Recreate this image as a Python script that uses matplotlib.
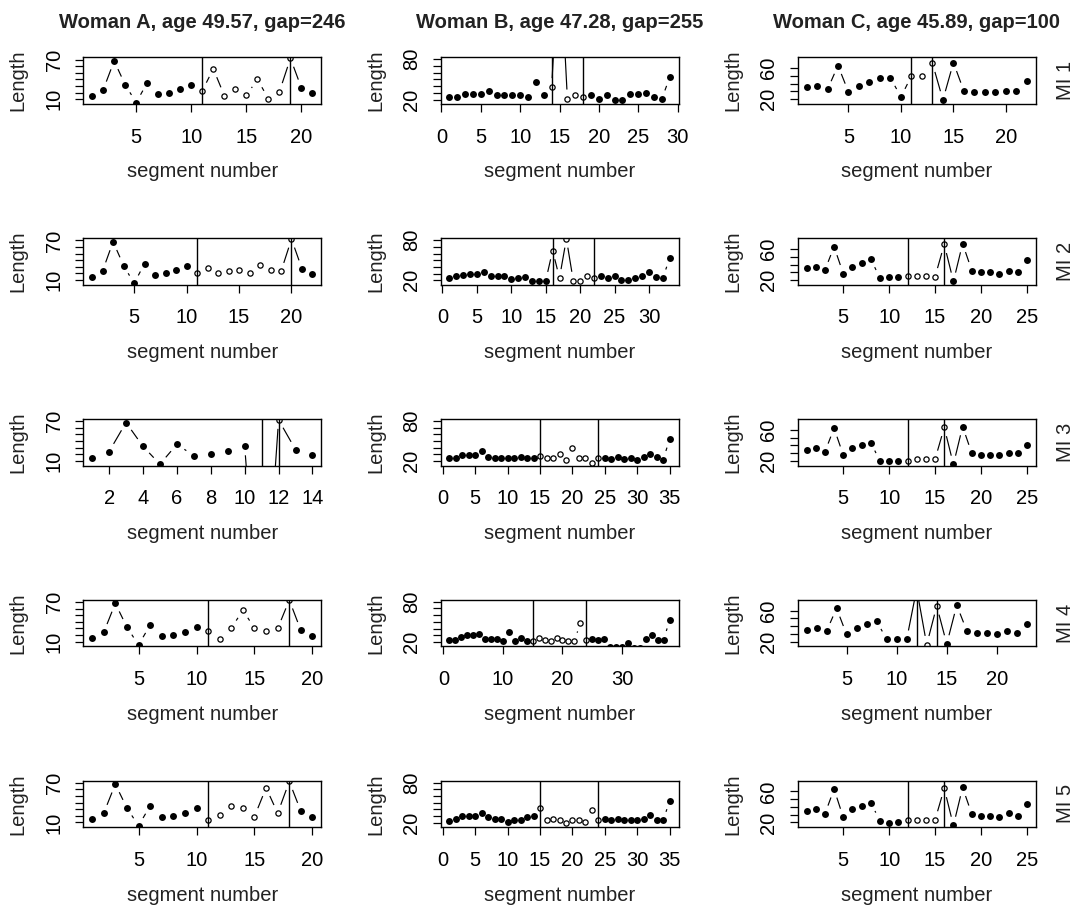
import matplotlib
matplotlib.use('Agg')
import matplotlib.pyplot as plt
import numpy as np
from matplotlib.collections import LineCollection

plt.rcParams['font.family'] = ['Liberation Sans', 'DejaVu Sans']

titles = ['Woman A, age 49.57, gap=246',
          'Woman B, age 47.28, gap=255',
          'Woman C, age 45.89, gap=100']
row_labels = ['MI 1', 'MI 2', 'MI 3', 'MI 4', 'MI 5']

# segment lengths, one list per woman and imputation
A1 = [15, 24, 68, 32, 5, 35, 18, 20, 25, 32, 23, 56, 15.5, 25.5, 16, 40, 11, 21.5, 72, 27, 19]
A2 = [15, 24, 68, 32, 5, 35, 18, 20, 25, 32, 20.5, 28, 20.5, 23, 25.5, 20.5, 33, 25.5, 23, 72, 27, 19]
A3 = [15, 24, 68, 32, 5, 35, 18, 20, 25, 32, -300, 72, 27, 19]
A4 = [15, 24, 68, 32, 5, 35, 18, 20, 25, 32, 25.5, 14, 30.5, 57.5, 30.5, 26, 30, 73, 27, 19]
A5 = [15, 24, 68, 32, 5, 35, 18, 20, 25, 32, 13.5, 21, 35.5, 31.5, 19, 62.5, 24, 72, 27, 19]

B1 = [24, 23.5, 28, 28, 28, 33, 26.5, 26.5, 26.5, 26.5, 23.5, 45.5, 26.5,
      38.5, 250, 21.5, 27, 24,
      26.5, 21.5, 26.5, 19, 19, 29, 28, 30, 24, 21, 53]
B2 = [23.5, 26, 28, 30, 30, 33, 26, 26, 26, 22, 23.5, 25, 19.5, 19.5, 19.5,
      64.5, 23.5, 82, 19.5, 19.5, 26, 23.5,
      26, 23.5, 26, 21, 21, 23.5, 26, 32, 25, 23.5, 53]
B3 = [25, 25, 29, 29, 29, 34.6, 26.3, 25, 25, 25, 25, 26.3, 25, 25,
      27.3, 25, 25, 30, 22.4, 39, 25, 25, 17.6, 25,
      25, 23.4, 26, 23.4, 25, 21.5, 26, 30, 26, 22.4, 53]
B4 = [22.5, 22.5, 27.5, 30, 30, 32.5, 25, 25, 25, 21, 35, 21, 26, 21,
      21, 26, 23.5, 21, 26, 23.5, 21, 21, 48.5, 23.5,
      25, 23.5, 25, 12, 12, 12.5, 18.5, 11, 11, 25, 31, 23.5, 23.5, 53]
B5 = [23, 25, 30, 30, 30, 35, 28, 26, 26, 21, 23.5, 23.5, 28.5, 30,
      42.6, 23.5, 26, 23.5, 19, 23.5, 23.5, 21, 38.6, 23.5,
      26, 23.5, 26, 23.5, 23.5, 23.5, 26, 31, 23.5, 23.5, 53]

C1 = [35.2, 36.8, 32.6, 63.4, 29.3, 36.8, 42.3, 47.4, 47.4, 23,
      50, 50, 66.3,
      19.2, 67.2, 30.5, 29.3, 29.3, 29.3, 31, 31, 43]
C2 = [35.2, 36.8, 32.6, 63, 28.4, 36.8, 41.9, 47, 22.5, 24.2, 23.4,
      25, 25, 25, 24.2, 66,
      18.3, 67, 32.2, 30.5, 30.5, 28.4, 32.2, 30.5, 45.3]
C3 = [33.9, 36, 31.4, 62, 27.6, 36.4, 39.8, 43.6, 19.6, 19.6, 19.6,
      19.6, 22, 22, 22, 63,
      15.4, 64.2, 29.7, 27.6, 27.6, 27.6, 29.7, 29.7, 41]
C4 = [35, 37, 33.4, 63, 29.3, 37, 42.4, 46.5, 23, 23, 23,
      88, 16, 66,
      17, 67, 34, 30.9, 30.9, 29.3, 33.4, 30.9, 43]
C5 = [35, 37, 30.8, 63, 26.6, 37, 40.8, 45, 22.4, 19, 21.2,
      23.3, 23.3, 23.3, 23.3, 63.8,
      16.1, 65, 30.8, 28.7, 28.7, 26.6, 31.6, 28.7, 43.3]

# first and last imputed segment (vertical lines)
A_gaps = [(11, 19), (11, 20), (11, 12), (11, 18), (11, 18)]
B_gaps = [(14, 18), (16, 22), (15, 24), (15, 24), (15, 24)]
C_gaps = [(11, 13), (12, 16), (12, 16), (12, 14), (12, 16)]

series = [[A1, A2, A3, A4, A5], [B1, B2, B3, B4, B5], [C1, C2, C3, C4, C5]]
gaps = [A_gaps, B_gaps, C_gaps]
y_limits = [(3, 73.5), (13.5, 83), (14, 74)]
y_ticks = [np.arange(10, 71, 10), np.arange(20, 81, 10), np.arange(20, 61, 10)]
x_steps = [[5, 5, 2, 5, 5], [5, 5, 5, 10, 5], [5, 5, 5, 5, 5]]

W, H = 1075, 907
fig = plt.figure(figsize=(W / 100, H / 100), dpi=100)

BOX_W, BOX_H = 238, 46.6
FS = 14.5


def draw_b(ax, x, y, gap=9):
    """R style type='b': line segments that stop short of the points."""
    pts = ax.transData.transform(np.column_stack([x, y]))
    inv = ax.transData.inverted()
    segs = []
    for p0, p1 in zip(pts[:-1], pts[1:]):
        d = p1 - p0
        L = np.hypot(d[0], d[1])
        if L <= 2 * gap:
            continue
        u = d / L
        segs.append(inv.transform(np.array([p0 + u * gap, p1 - u * gap])))
    ax.add_collection(LineCollection(segs, colors='black', linewidths=0.85),
                      autolim=False)


for c in range(3):
    for r in range(5):
        left = 83.3 + 357.2 * c
        top = 57.3 + 180.8 * r
        ax = fig.add_axes([left / W, 1 - (top + BOX_H) / H, BOX_W / W, BOX_H / H])

        y = np.array(series[c][r], dtype=float)
        n = len(y)
        x = np.arange(1, n + 1)
        ext = 0.04 * (n - 1)
        ax.set_xlim(1 - ext, n + ext)
        ax.set_ylim(*y_limits[c])

        g0, g1 = gaps[c][r]
        imputed = (x >= g0) & (x <= g1)

        draw_b(ax, x, y)
        ax.plot(x[~imputed], y[~imputed], 'o', color='black', ms=5.0, mew=0)
        ax.plot(x[imputed], y[imputed], 'o', mfc='none', mec='black', ms=3.8, mew=0.9)
        ax.axvline(g0, color='black', lw=1.0)
        ax.axvline(g1, color='black', lw=1.0)

        step = x_steps[c][r]
        xt = np.arange(0, n + ext + 0.001, step)
        xt = xt[xt >= 1 - ext]
        ax.set_xticks(xt)
        ax.set_xticklabels([str(int(v)) for v in xt])

        yt = y_ticks[c]
        ax.set_yticks(yt)
        ylabels = [''] * len(yt)
        ylabels[0] = str(yt[0])
        ylabels[-1] = str(yt[-1])
        ax.set_yticklabels(ylabels, rotation=90, va='center')

        ax.tick_params(axis='both', direction='out', length=6, width=0.9,
                       labelsize=FS, colors='black')
        ax.tick_params(axis='x', pad=11)
        ax.tick_params(axis='y', pad=8)
        for s in ax.spines.values():
            s.set_linewidth(1.0)

        ax.text(0.5, -68 / BOX_H, 'segment number', transform=ax.transAxes,
                ha='center', va='center', fontsize=FS, color='#222222')
        ax.text(-65 / BOX_W, 0.5, 'Length', transform=ax.transAxes,
                rotation=90, ha='center', va='center', fontsize=FS, color='#222222')
        if r == 0:
            ax.text(0.5, 1 + 35 / BOX_H, titles[c], transform=ax.transAxes,
                    ha='center', va='center', fontsize=FS, fontweight='bold',
                    color='#222222')
        if c == 2:
            ax.text(1 + 30 / BOX_W, 0.5, row_labels[r], transform=ax.transAxes,
                    rotation=90, ha='center', va='center', fontsize=FS,
                    color='#222222')

fig.savefig('out.png', dpi=100)
